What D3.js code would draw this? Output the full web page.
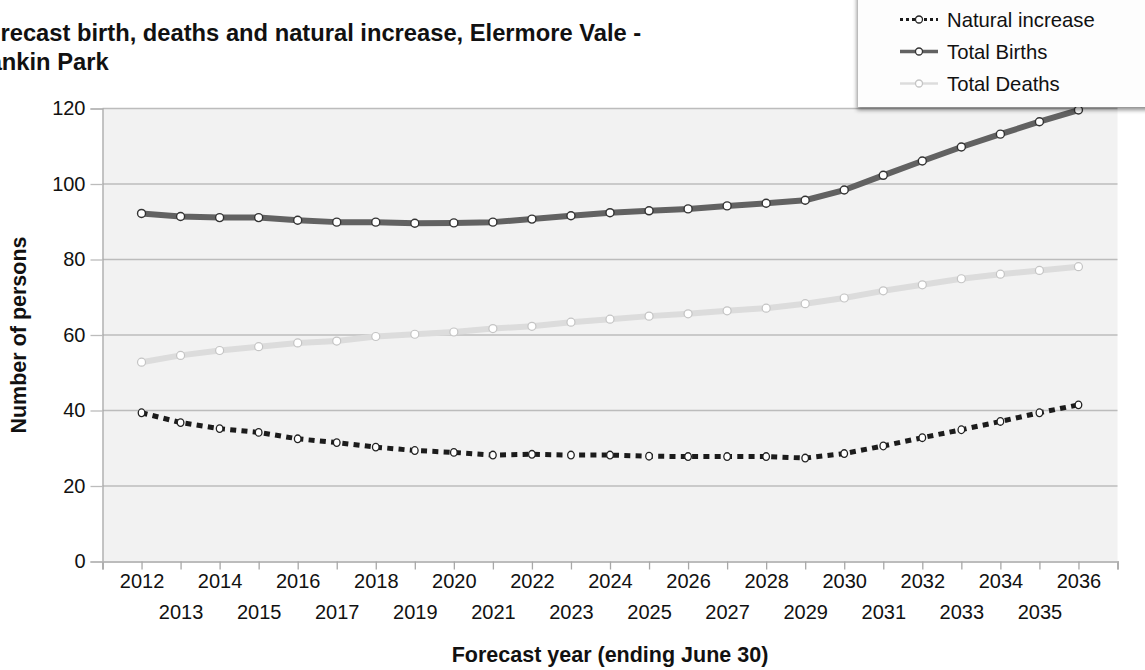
<!DOCTYPE html>
<html>
<head>
<meta charset="utf-8">
<script src="https://cdn.jsdelivr.net/npm/d3@7"></script>
<style>
  html, body { margin: 0; padding: 0; background: #fff; }
  svg { display: block; font-family: "Liberation Sans", Arial, sans-serif; }
</style>
</head>
<body>
<svg id="chart" width="1145" height="670"></svg>
<script>
const years = [2012,2013,2014,2015,2016,2017,2018,2019,2020,2021,2022,2023,2024,2025,2026,2027,2028,2029,2030,2031,2032,2033,2034,2035,2036];
const totalBirths = [92.2,91.4,91.1,91.1,90.4,89.9,89.9,89.6,89.7,89.9,90.7,91.6,92.4,92.9,93.4,94.2,94.9,95.7,98.4,102.3,106.1,109.8,113.2,116.5,119.6];
const totalDeaths = [52.8,54.6,55.9,56.9,57.9,58.4,59.6,60.2,60.8,61.7,62.3,63.4,64.2,65.0,65.6,66.4,67.1,68.3,69.8,71.7,73.3,74.9,76.1,77.1,78.1];
const naturalIncrease = [39.4,36.8,35.2,34.2,32.5,31.5,30.3,29.4,28.9,28.2,28.4,28.2,28.2,27.9,27.8,27.8,27.8,27.4,28.6,30.6,32.8,34.9,37.1,39.4,41.5];
const yTicks = [0,20,40,60,80,100,120];
const seriesNames = ["Natural increase","Total Births","Total Deaths"];
const titleLines = ["Forecast birth, deaths and natural increase, Elermore Vale -","Rankin Park"];
const xTitle = "Forecast year (ending June 30)";
const yTitle = "Number of persons";

const svg = d3.select("#chart");
const L = 102.5, R = 1117.5, T = 108.5, B = 561.5;
const x = d3.scaleLinear().domain([years[0]-1, years[years.length-1]+1]).range([L, R]);
const y = d3.scaleLinear().domain([0,120]).range([B, T]);

// plot background
svg.append("rect").attr("x", L).attr("y", T).attr("width", R-L).attr("height", B-T).attr("fill", "#f2f2f2");

// gridlines
svg.append("g").selectAll("line").data(yTicks.filter(d => d > 0)).join("line")
  .attr("x1", L).attr("x2", R).attr("y1", d => y(d)).attr("y2", d => y(d))
  .attr("stroke", "#bcbcbc").attr("stroke-width", 1.3);

// y axis
const yAxis = svg.append("g").attr("transform", `translate(${L},0)`)
  .call(d3.axisLeft(y).tickValues(yTicks).tickSize(12).tickPadding(5).tickFormat(d3.format("d")));
yAxis.select(".domain").attr("stroke", "#a8a8a8").attr("stroke-width", 1.3);
yAxis.selectAll(".tick line").attr("stroke", "#bcbcbc").attr("stroke-width", 1.3);
yAxis.selectAll("text").attr("font-size", 20).attr("fill", "#111").attr("font-family", "Liberation Sans, Arial, sans-serif");

// x axis
const xTickVals = d3.range(years[0]-1, years[years.length-1]+2);
const xAxis = svg.append("g").attr("transform", `translate(0,${B})`)
  .call(d3.axisBottom(x).tickValues(xTickVals).tickSize(8).tickPadding(4.5)
    .tickFormat(d => (d >= years[0] && d <= years[years.length-1]) ? String(d) : ""));
xAxis.select(".domain").attr("stroke", "#bcbcbc").attr("stroke-width", 2);
xAxis.selectAll(".tick line").attr("stroke", "#a8a8a8").attr("stroke-width", 1.3);
xAxis.selectAll("text").attr("font-size", 20).attr("fill", "#111").attr("font-family", "Liberation Sans, Arial, sans-serif")
  .attr("y", d => (d % 2 === 0) ? 12.5 : 43.5);

// lines
const line = d3.line().x((d,i) => x(years[i])).y(d => y(d));
const plot = svg.append("g");
plot.append("path").datum(totalDeaths).attr("d", line).attr("fill","none")
  .attr("stroke","#dcdcdc").attr("stroke-width",6).attr("stroke-linejoin","round");
plot.append("path").datum(totalBirths).attr("d", line).attr("fill","none")
  .attr("stroke","#626262").attr("stroke-width",6).attr("stroke-linejoin","round");
plot.append("path").datum(naturalIncrease).attr("d", line).attr("fill","none")
  .attr("stroke","#1c1c1c").attr("stroke-width",5).attr("stroke-dasharray","6,5.3").attr("stroke-dashoffset", 0);

// markers
plot.append("g").selectAll("circle").data(totalDeaths).join("circle")
  .attr("cx",(d,i)=>x(years[i])).attr("cy",d=>y(d)).attr("r",4)
  .attr("fill","#fff").attr("stroke","#c4c4c4").attr("stroke-width",1.2);
plot.append("g").selectAll("circle").data(totalBirths).join("circle")
  .attr("cx",(d,i)=>x(years[i])).attr("cy",d=>y(d)).attr("r",4)
  .attr("fill","#fff").attr("stroke","#333").attr("stroke-width",1.4);
plot.append("g").selectAll("ellipse").data(naturalIncrease).join("ellipse")
  .attr("cx",(d,i)=>x(years[i])).attr("cy",d=>y(d)).attr("rx",3.3).attr("ry",3.8)
  .attr("fill","#fff").attr("stroke","#222").attr("stroke-width",1.3);

// title (left part clipped by the page edge, as in the reference)
const title = svg.append("text").attr("font-weight","bold").attr("font-size",23.5).attr("fill","#111");
const t1 = title.append("tspan").attr("y", 41).attr("x", 0).text(titleLines[0]);
const t2 = title.append("tspan").attr("y", 69.5).attr("x", 0).text(titleLines[1]);
{
  const full = t1.node().getComputedTextLength();
  const fo = t1.node().getSubStringLength(0, 2);
  const fs = 23.5 * 641 / (full - fo);
  title.attr("font-size", fs);
  const fo2 = t1.node().getSubStringLength(0, 2);
  title.selectAll("tspan").attr("x", -fo2 + 0.5);
}

// axis titles
svg.append("text").attr("x", (L+R)/2).attr("y", 662).attr("text-anchor","middle")
  .attr("font-weight","bold").attr("font-size",21.5).attr("fill","#111").text(xTitle);
svg.append("text").attr("transform", `translate(26,${(T+B)/2}) rotate(-90)`).attr("text-anchor","middle")
  .attr("font-weight","bold").attr("font-size",21.5).attr("fill","#111").text(yTitle);

// legend
const defs = svg.append("defs");
const f = defs.append("filter").attr("id","shadow").attr("x","-10%").attr("y","-10%").attr("width","130%").attr("height","130%");
f.append("feDropShadow").attr("dx",-1).attr("dy",3).attr("stdDeviation",2).attr("flood-color","#000").attr("flood-opacity",0.45);
const lg = svg.append("g");
lg.append("rect").attr("x", 858).attr("y", -10).attr("width", 300).attr("height", 117)
  .attr("fill","#fdfdfd").attr("filter","url(#shadow)");
const legendStyles = [
  {stroke:"#1c1c1c", w:3, dash:"3,3", mStroke:"#222"},
  {stroke:"#626262", w:3.5, dash:null, mStroke:"#333"},
  {stroke:"#dcdcdc", w:2.5, dash:null, mStroke:"#c4c4c4"}
];
seriesNames.forEach((name, i) => {
  const cy = 19.5 + i*32;
  const s = legendStyles[i];
  const ln = lg.append("line").attr("x1",900).attr("x2",938).attr("y1",cy).attr("y2",cy)
    .attr("stroke",s.stroke).attr("stroke-width",s.w);
  if (s.dash) ln.attr("stroke-dasharray", s.dash);
  lg.append("circle").attr("cx",919).attr("cy",cy).attr("r",3.5).attr("fill","#fff")
    .attr("stroke",s.mStroke).attr("stroke-width",1.3);
  lg.append("text").attr("x",947).attr("y",cy).attr("dy","0.35em").attr("font-size",20.3).attr("fill","#111").text(name);
});
</script>
</body>
</html>
